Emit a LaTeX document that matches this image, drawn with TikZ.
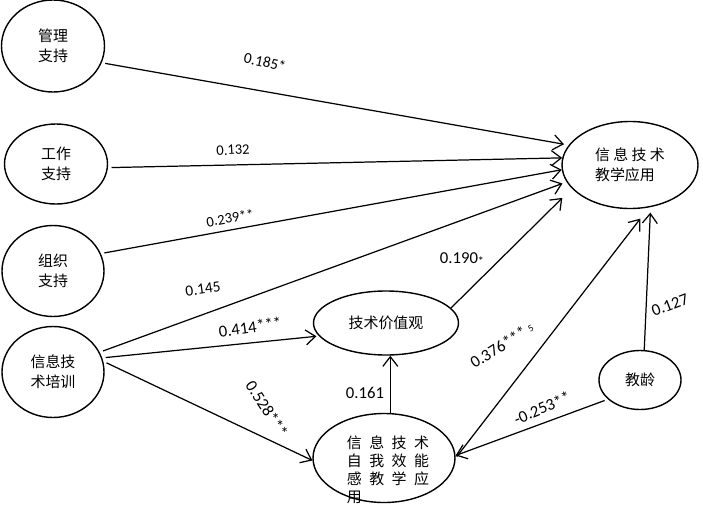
\documentclass[tikz,border=0pt]{standalone}
\usepackage{fontspec}
\setmainfont{Carlito}
\newfontfamily\cjk{Noto Sans CJK SC}
\usetikzlibrary{arrows.meta,shapes.geometric}
\tikzset{
	factor/.style={ellipse, draw, line width=0.8pt, inner sep=0pt, align=center, font=\cjk\fontsize{8.5}{11.4}\selectfont},
	effect/.style={line width=0.7pt, -{Straight Barb[length=5.5pt,width=8.5pt]}, shorten <=2pt},
	coef/.style={inner sep=1pt, font=\fontsize{8.3}{10}\selectfont},
	coefbig/.style={coef, font=\fontsize{9.5}{11}\selectfont}
}

\begin{document}
\begin{tikzpicture}
			%%%%% FACTORS %%%%%
			\useasboundingbox (0,0) rectangle (14.06,-10.16);
			
			\node[factor, minimum width=2.06cm, minimum height=1.84cm] (mgmt) at (1.06,-0.92) {管理\\支持};
			\node[factor, minimum width=2.06cm, minimum height=1.6cm] (work) at (1.12,-3.28) {工作\\支持};
			\node[factor, minimum width=2.04cm, minimum height=1.82cm] (org) at (1.06,-5.42) {组织\\支持};
			\node[factor, minimum width=2.04cm, minimum height=1.82cm] (train) at (1.06,-7.44) {信息技\\术培训};
			
			\node[factor, minimum width=2.72cm, minimum height=1.74cm, align=left] (app) at (12.6,-3.3) {信 息 技 术\\教学应用};
			\node[factor, minimum width=2.9cm, minimum height=1.28cm] (value) at (7.72,-6.46) {技术价值观};
			\node[factor, minimum width=2.84cm, minimum height=1.78cm,
				label={[align=left, inner sep=0pt, font=\cjk\fontsize{8.5}{10.2}\selectfont, shift={(0.08,-0.23)}]center:信\enspace 息\enspace 技\enspace 术\\自\enspace 我\enspace 效\enspace 能\\感\enspace 教\enspace 学\enspace 应\\用}] (eff) at (7.68,-9.16) {};
			\node[factor, minimum width=1.64cm, minimum height=1.18cm] (age) at (12.8,-7.6) {教龄};
			
			%%%%% PATHS %%%%%
			\draw[effect, shorten >=2.7pt] (mgmt.-19) -- (app.162);
			\draw[effect] (work.-4) -- (app.174);
			\draw[effect] (org.20) -- (app.184);
			\draw[effect, shorten >=2.5pt] (train.23) -- (app.195);
			\draw[effect, shorten >=1.4pt] (train.16) -- (value.191);
			\draw[effect] (train.12) -- (eff.182);
			\draw[effect, shorten <=0pt, shorten >=7.6pt] (value.13) -- (app.202);
			\draw[effect, shorten <=0pt] (eff.82) -- (eff.82 |- value.south);
			\draw[effect, shorten <=1pt, shorten >=8pt] (eff.east) -- (app.-66);
			\draw[effect, shorten <=0pt, shorten >=3.1pt] (age.82) -- (app.-64);
			\draw[effect] (age.211) -- (eff.2);
			
			%%%%% COEFFICIENTS %%%%%
			\node[coef, font=\fontsize{8.7}{10}\selectfont, rotate=-12] (c185) at (5.30,-1.24) {0.185*};
			\node[coef, rotate=3] (c132) at (4.66,-3.00) {0.132};
			\node[coef, rotate=10] (c239) at (4.60,-4.36) {0.239**};
			\node[coef, font=\fontsize{8.8}{10}\selectfont, rotate=8] (c145) at (4.06,-5.78) {0.145};
			\node[coefbig, rotate=8] (c414) at (5.00,-6.54) {0.414***};
			\node[coefbig, rotate=-57] (c528) at (5.34,-8.18) {0.528***};
			\node[coefbig] (c190) at (9.24,-5.18) {0.190\raisebox{-1pt}{\fontsize{7}{7}\selectfont *}};
			\node[coefbig] (c161) at (7.30,-7.86) {0.161};
			\node[coefbig, rotate=32] (c376) at (10.04,-6.90) {0.376*** \raisebox{1pt}{\fontsize{5.5}{5.5}\selectfont 5}};
			\node[coefbig, rotate=21] (c127) at (13.40,-6.10) {0.127};
			\node[coefbig, rotate=23] (c253) at (10.84,-8.16) {-0.253**};
			
			%%%%% END %%%%%
		\end{tikzpicture}
\end{document}
